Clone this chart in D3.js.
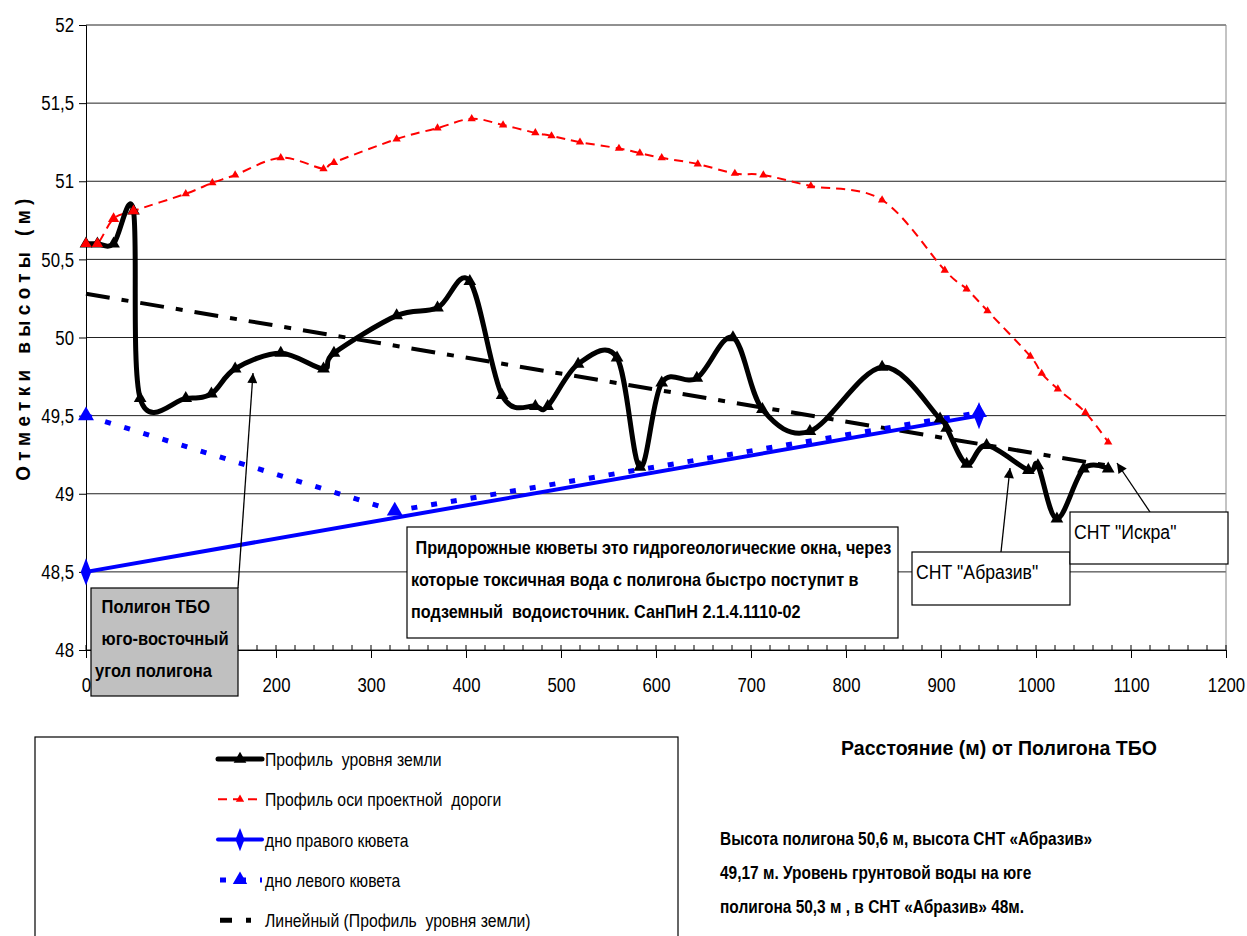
<!DOCTYPE html>
<html>
<head>
<meta charset="utf-8">
<script src="https://cdn.jsdelivr.net/npm/d3@7"></script>
<style>
  body { margin: 0; background: #fff; }
  svg text { font-family: "Liberation Sans", Arial, sans-serif; }
</style>
</head>
<body>
<div id="container"></div>
<script>
/* CONSTANTS AND GLOBALS */
const width = 1247;
const height = 936;
const plot = { left: 86, right: 1226, top: 25, bottom: 650 };

/* DATA */
// Профиль уровня земли
const groundX = [0, 12, 29, 50, 57, 105, 132, 157, 205, 250, 261, 327, 370, 404, 438, 473, 486, 518, 559, 583, 606, 643, 681, 712, 762, 838, 899, 906, 927, 948, 992, 1002, 1022, 1050, 1076];
const groundY = [50.6, 50.6, 50.6, 50.81, 49.61, 49.61, 49.64, 49.8, 49.9, 49.8, 49.9, 50.14, 50.19, 50.36, 49.63, 49.56, 49.56, 49.83, 49.87, 49.17, 49.71, 49.74, 50.0, 49.54, 49.4, 49.81, 49.48, 49.42, 49.19, 49.31, 49.15, 49.18, 48.84, 49.16, 49.16];
// Профиль оси проектной дороги
const roadX = [0, 12, 29, 50, 105, 133, 157, 205, 250, 261, 327, 370, 406, 439, 473, 490, 520, 561, 583, 606, 644, 683, 713, 763, 838, 904, 927, 949, 994, 1006, 1023, 1052, 1076];
const roadY = [50.6, 50.6, 50.76, 50.81, 50.92, 50.99, 51.04, 51.15, 51.08, 51.12, 51.27, 51.34, 51.4, 51.36, 51.31, 51.29, 51.25, 51.21, 51.18, 51.15, 51.11, 51.05, 51.04, 50.97, 50.88, 50.43, 50.31, 50.17, 49.88, 49.77, 49.67, 49.52, 49.33];
// дно правого кювета
const rightX = [0, 940];
const rightY = [48.5, 49.5];
// дно левого кювета
const leftX = [0, 325, 940];
const leftY = [49.5, 48.89, 49.52];
// Линейный (Профиль уровня земли)
const trendX = [0, 1076];
const trendY = [50.28, 49.18];

const xTicks = d3.range(0, 1201, 100);
const xMinor = d3.range(0, 1201, 20);
const yTicks = d3.range(48, 52.01, 0.5);

const legendLabels = [
  "Профиль  уровня земли",
  "Профиль оси проектной  дороги",
  "дно правого кювета",
  "дно левого кювета",
  "Линейный (Профиль  уровня земли)"
];

// narrow font look: move x/y into a transform and squeeze horizontally
function squeeze(sel, k) {
  sel.each(function() {
    const t = d3.select(this);
    const x = +t.attr("x") || 0, y = +t.attr("y") || 0;
    t.attr("transform", `translate(${x},${y}) scale(${k},1)`).attr("x", 0).attr("y", 0);
  });
}

/* SCALES */
const xScale = d3.scaleLinear().domain([0, 1200]).range([plot.left, plot.right]);
const yScale = d3.scaleLinear().domain([48, 52]).range([plot.bottom, plot.top]);

const svg = d3.select("#container").append("svg")
  .attr("width", width).attr("height", height);

// gridlines
svg.append("g").selectAll("line").data(yTicks).join("line")
  .attr("x1", plot.left).attr("x2", plot.right)
  .attr("y1", d => yScale(d)).attr("y2", d => yScale(d))
  .attr("stroke", "#222").attr("stroke-width", 1);
svg.append("line")
  .attr("x1", plot.right).attr("x2", plot.right)
  .attr("y1", plot.top).attr("y2", plot.bottom)
  .attr("stroke", "#888");

// axes
const yAxis = d3.axisLeft(yScale).tickValues(yTicks).tickSize(7).tickPadding(5)
  .tickFormat(d => String(d).replace(".", ","));
svg.append("g").attr("transform", `translate(${plot.left},0)`).call(yAxis)
  .call(g => g.selectAll("text").attr("font-size", 21).attr("fill", "#000").call(squeeze, 0.8))
  .call(g => g.select(".domain").attr("stroke", "#000"));

svg.append("g").selectAll("line").data(xMinor).join("line")
  .attr("x1", d => xScale(d)).attr("x2", d => xScale(d))
  .attr("y1", plot.bottom - 5).attr("y2", plot.bottom)
  .attr("stroke", "#000");
// "100" sits under the grey box in the picture
const xAxis = d3.axisBottom(xScale).tickValues(xTicks).tickSize(8).tickPadding(19)
  .tickFormat(d => d === 100 ? "" : d3.format("d")(d));
svg.append("g").attr("transform", `translate(0,${plot.bottom})`).call(xAxis)
  .call(g => g.selectAll("text").attr("font-size", 21).attr("fill", "#000").call(squeeze, 0.8))
  .call(g => g.select(".domain").attr("stroke", "#000"));

// axis titles
svg.append("text")
  .attr("transform", "translate(30,337) rotate(-90) scale(0.9,1)")
  .attr("text-anchor", "middle")
  .attr("font-size", 21).attr("font-weight", "bold")
  .attr("letter-spacing", 6)
  .text("Отметки высоты (м)");
svg.append("text")
  .attr("x", 999).attr("y", 755)
  .attr("text-anchor", "middle")
  .attr("font-size", 21).attr("font-weight", "bold")
  .text("Расстояние (м) от Полигона ТБО")
  .call(squeeze, 0.93);

/* LINES */
const smooth = d3.curveCardinal.tension(0);
const line = (xs, ys, curve) => d3.line()
  .x((d, i) => xScale(xs[i])).y(d => yScale(d))
  .curve(curve)(ys);

const tri = d3.symbol().type(d3.symbolTriangle);
const diamond = d3.symbol().type(d3.symbolDiamond);

// trend
svg.append("path")
  .attr("d", line(trendX, trendY, d3.curveLinear))
  .attr("fill", "none").attr("stroke", "#000").attr("stroke-width", 4)
  .attr("stroke-dasharray", "24,12,7,12");

// left ditch (dotted)
svg.append("path")
  .attr("d", line(leftX, leftY, d3.curveLinear))
  .attr("fill", "none").attr("stroke", "#0000ff").attr("stroke-width", 5)
  .attr("stroke-dasharray", "6,14");
svg.append("g").selectAll("path").data(leftY).join("path")
  .attr("transform", (d, i) => `translate(${xScale(leftX[i])},${yScale(d)})`)
  .attr("d", tri.size(110)).attr("fill", "#0000ff");

// right ditch
svg.append("path")
  .attr("d", line(rightX, rightY, d3.curveLinear))
  .attr("fill", "none").attr("stroke", "#0000ff").attr("stroke-width", 4);
svg.append("g").selectAll("path").data(rightY).join("path")
  .attr("transform", (d, i) => `translate(${xScale(rightX[i])},${yScale(d)}) scale(0.8,1.2)`)
  .attr("d", diamond.size(150)).attr("fill", "#0000ff");

// road axis
svg.append("path")
  .attr("d", line(roadX, roadY, smooth))
  .attr("fill", "none").attr("stroke", "#ff0000").attr("stroke-width", 2)
  .attr("stroke-dasharray", "9,6");
svg.append("g").selectAll("path").data(roadY).join("path")
  .attr("transform", (d, i) => `translate(${xScale(roadX[i])},${yScale(d)})`)
  .attr("d", tri.size(30)).attr("fill", "#ff0000");

// ground profile
svg.append("path")
  .attr("d", line(groundX, groundY, smooth))
  .attr("fill", "none").attr("stroke", "#000").attr("stroke-width", 5)
  .attr("stroke-linejoin", "round");
svg.append("g").selectAll("path").data(groundY).join("path")
  .attr("transform", (d, i) => `translate(${xScale(groundX[i])},${yScale(d)})`)
  .attr("d", tri.size(70)).attr("fill", "#000");

// first road markers drawn on top of ground (as in the picture)
svg.append("g").selectAll("path").data(roadY.slice(0, 4)).join("path")
  .attr("transform", (d, i) => `translate(${xScale(roadX[i])},${yScale(d)})`)
  .attr("d", tri.size(55)).attr("fill", "#ff0000");

/* ANNOTATIONS */
const arrows = [
  [238, 588, 253, 373],
  [1001, 552, 1010, 468],
  [1150, 512, 1117, 463]
];
const defs = svg.append("defs");
defs.append("marker").attr("id", "ah")
  .attr("viewBox", "0 0 10 10").attr("refX", 10).attr("refY", 5)
  .attr("markerWidth", 14).attr("markerHeight", 10).attr("markerUnits", "userSpaceOnUse")
  .attr("orient", "auto")
  .append("path").attr("d", "M0,0 L10,5 L0,10 Z").attr("fill", "#000");
svg.append("g").selectAll("line").data(arrows).join("line")
  .attr("x1", d => d[0]).attr("y1", d => d[1])
  .attr("x2", d => d[2]).attr("y2", d => d[3])
  .attr("stroke", "#000").attr("stroke-width", 1.3)
  .attr("marker-end", "url(#ah)");

function box(x, y, w, h, fill, lines, opts) {
  svg.append("rect").attr("x", x).attr("y", y).attr("width", w).attr("height", h)
    .attr("fill", fill).attr("stroke", "#000").attr("stroke-width", 1.2);
  lines.forEach((t, i) => {
    svg.append("text")
      .attr("x", x + opts.dx[i]).attr("y", y + opts.y0 + i * opts.lh)
      .attr("font-size", opts.size).attr("font-weight", opts.weight)
      .attr("xml:space", "preserve")
      .text(t)
      .call(squeeze, opts.k);
  });
}

box(407, 527, 491, 111, "#fff", [
  " Придорожные кюветы это гидрогеологические окна, через",
  "которые токсичная вода с полигона быстро поступит в",
  "подземный  водоисточник. СанПиН 2.1.4.1110-02"
], { dx: [4, 4, 4], y0: 27, lh: 32, size: 18, weight: "bold", k: 0.9 });

box(912, 552, 158, 53, "#fff", ["СНТ \"Абразив\""],
  { dx: [4], y0: 27, lh: 0, size: 21, weight: "normal", k: 0.84 });
box(1070, 512, 158, 52, "#fff", ["СНТ \"Искра\""],
  { dx: [4], y0: 27, lh: 0, size: 21, weight: "normal", k: 0.84 });

box(91, 588, 147, 108, "#c0c0c0", [
  " Полигон ТБО",
  " юго-восточный",
  "угол полигона"
], { dx: [6, 6, 4], y0: 25, lh: 32, size: 18, weight: "bold", k: 0.92 });

/* LEGEND */
svg.append("rect").attr("x", 35).attr("y", 737).attr("width", 643).attr("height", 230)
  .attr("fill", "#fff").attr("stroke", "#000").attr("stroke-width", 1.2);
const lg = svg.append("g");
const rowY = d3.range(5).map(i => 759 + i * 40.3);
const sx0 = 218, sx1 = 262, sm = 240;
// ground
lg.append("line").attr("x1", sx0).attr("x2", sx1).attr("y1", rowY[0]).attr("y2", rowY[0])
  .attr("stroke", "#000").attr("stroke-width", 5).attr("stroke-linecap", "round");
lg.append("path").attr("transform", `translate(${sm},${rowY[0]})`).attr("d", tri.size(70)).attr("fill", "#000");
// road
lg.append("line").attr("x1", sx0).attr("x2", sx1).attr("y1", rowY[1]).attr("y2", rowY[1])
  .attr("stroke", "#ff0000").attr("stroke-width", 2).attr("stroke-dasharray", "9,6");
lg.append("path").attr("transform", `translate(${sm},${rowY[1]})`).attr("d", tri.size(30)).attr("fill", "#ff0000");
// right ditch
lg.append("line").attr("x1", sx0).attr("x2", sx1).attr("y1", rowY[2]).attr("y2", rowY[2])
  .attr("stroke", "#0000ff").attr("stroke-width", 4).attr("stroke-linecap", "round");
lg.append("path").attr("transform", `translate(${sm},${rowY[2]}) scale(0.8,1.2)`).attr("d", diamond.size(110)).attr("fill", "#0000ff");
// left ditch
lg.append("line").attr("x1", sx0 + 2).attr("x2", sx1).attr("y1", rowY[3]).attr("y2", rowY[3])
  .attr("stroke", "#0000ff").attr("stroke-width", 5).attr("stroke-dasharray", "6,14");
lg.append("path").attr("transform", `translate(${sm},${rowY[3]})`).attr("d", tri.size(90)).attr("fill", "#0000ff");
// trend
lg.append("line").attr("x1", sx0 + 2).attr("x2", sx1).attr("y1", rowY[4]).attr("y2", rowY[4])
  .attr("stroke", "#000").attr("stroke-width", 5).attr("stroke-dasharray", "12,14,5,20");
lg.selectAll("text").data(legendLabels).join("text")
  .attr("x", 265).attr("y", (d, i) => rowY[i] + 7)
  .attr("font-size", 19).attr("xml:space", "preserve")
  .text(d => d)
  .call(squeeze, 0.83);

/* NOTE */
const noteLines = [
  "Высота полигона 50,6 м, высота СНТ «Абразив»",
  "49,17 м. Уровень грунтовой воды на юге",
  "полигона 50,3 м , в СНТ «Абразив» 48м."
];
svg.append("g").selectAll("text").data(noteLines).join("text")
  .attr("x", 720).attr("y", (d, i) => 845 + i * 34)
  .attr("font-size", 18).attr("font-weight", "bold")
  .attr("xml:space", "preserve")
  .text(d => d)
  .call(squeeze, 0.86);
</script>
</body>
</html>
